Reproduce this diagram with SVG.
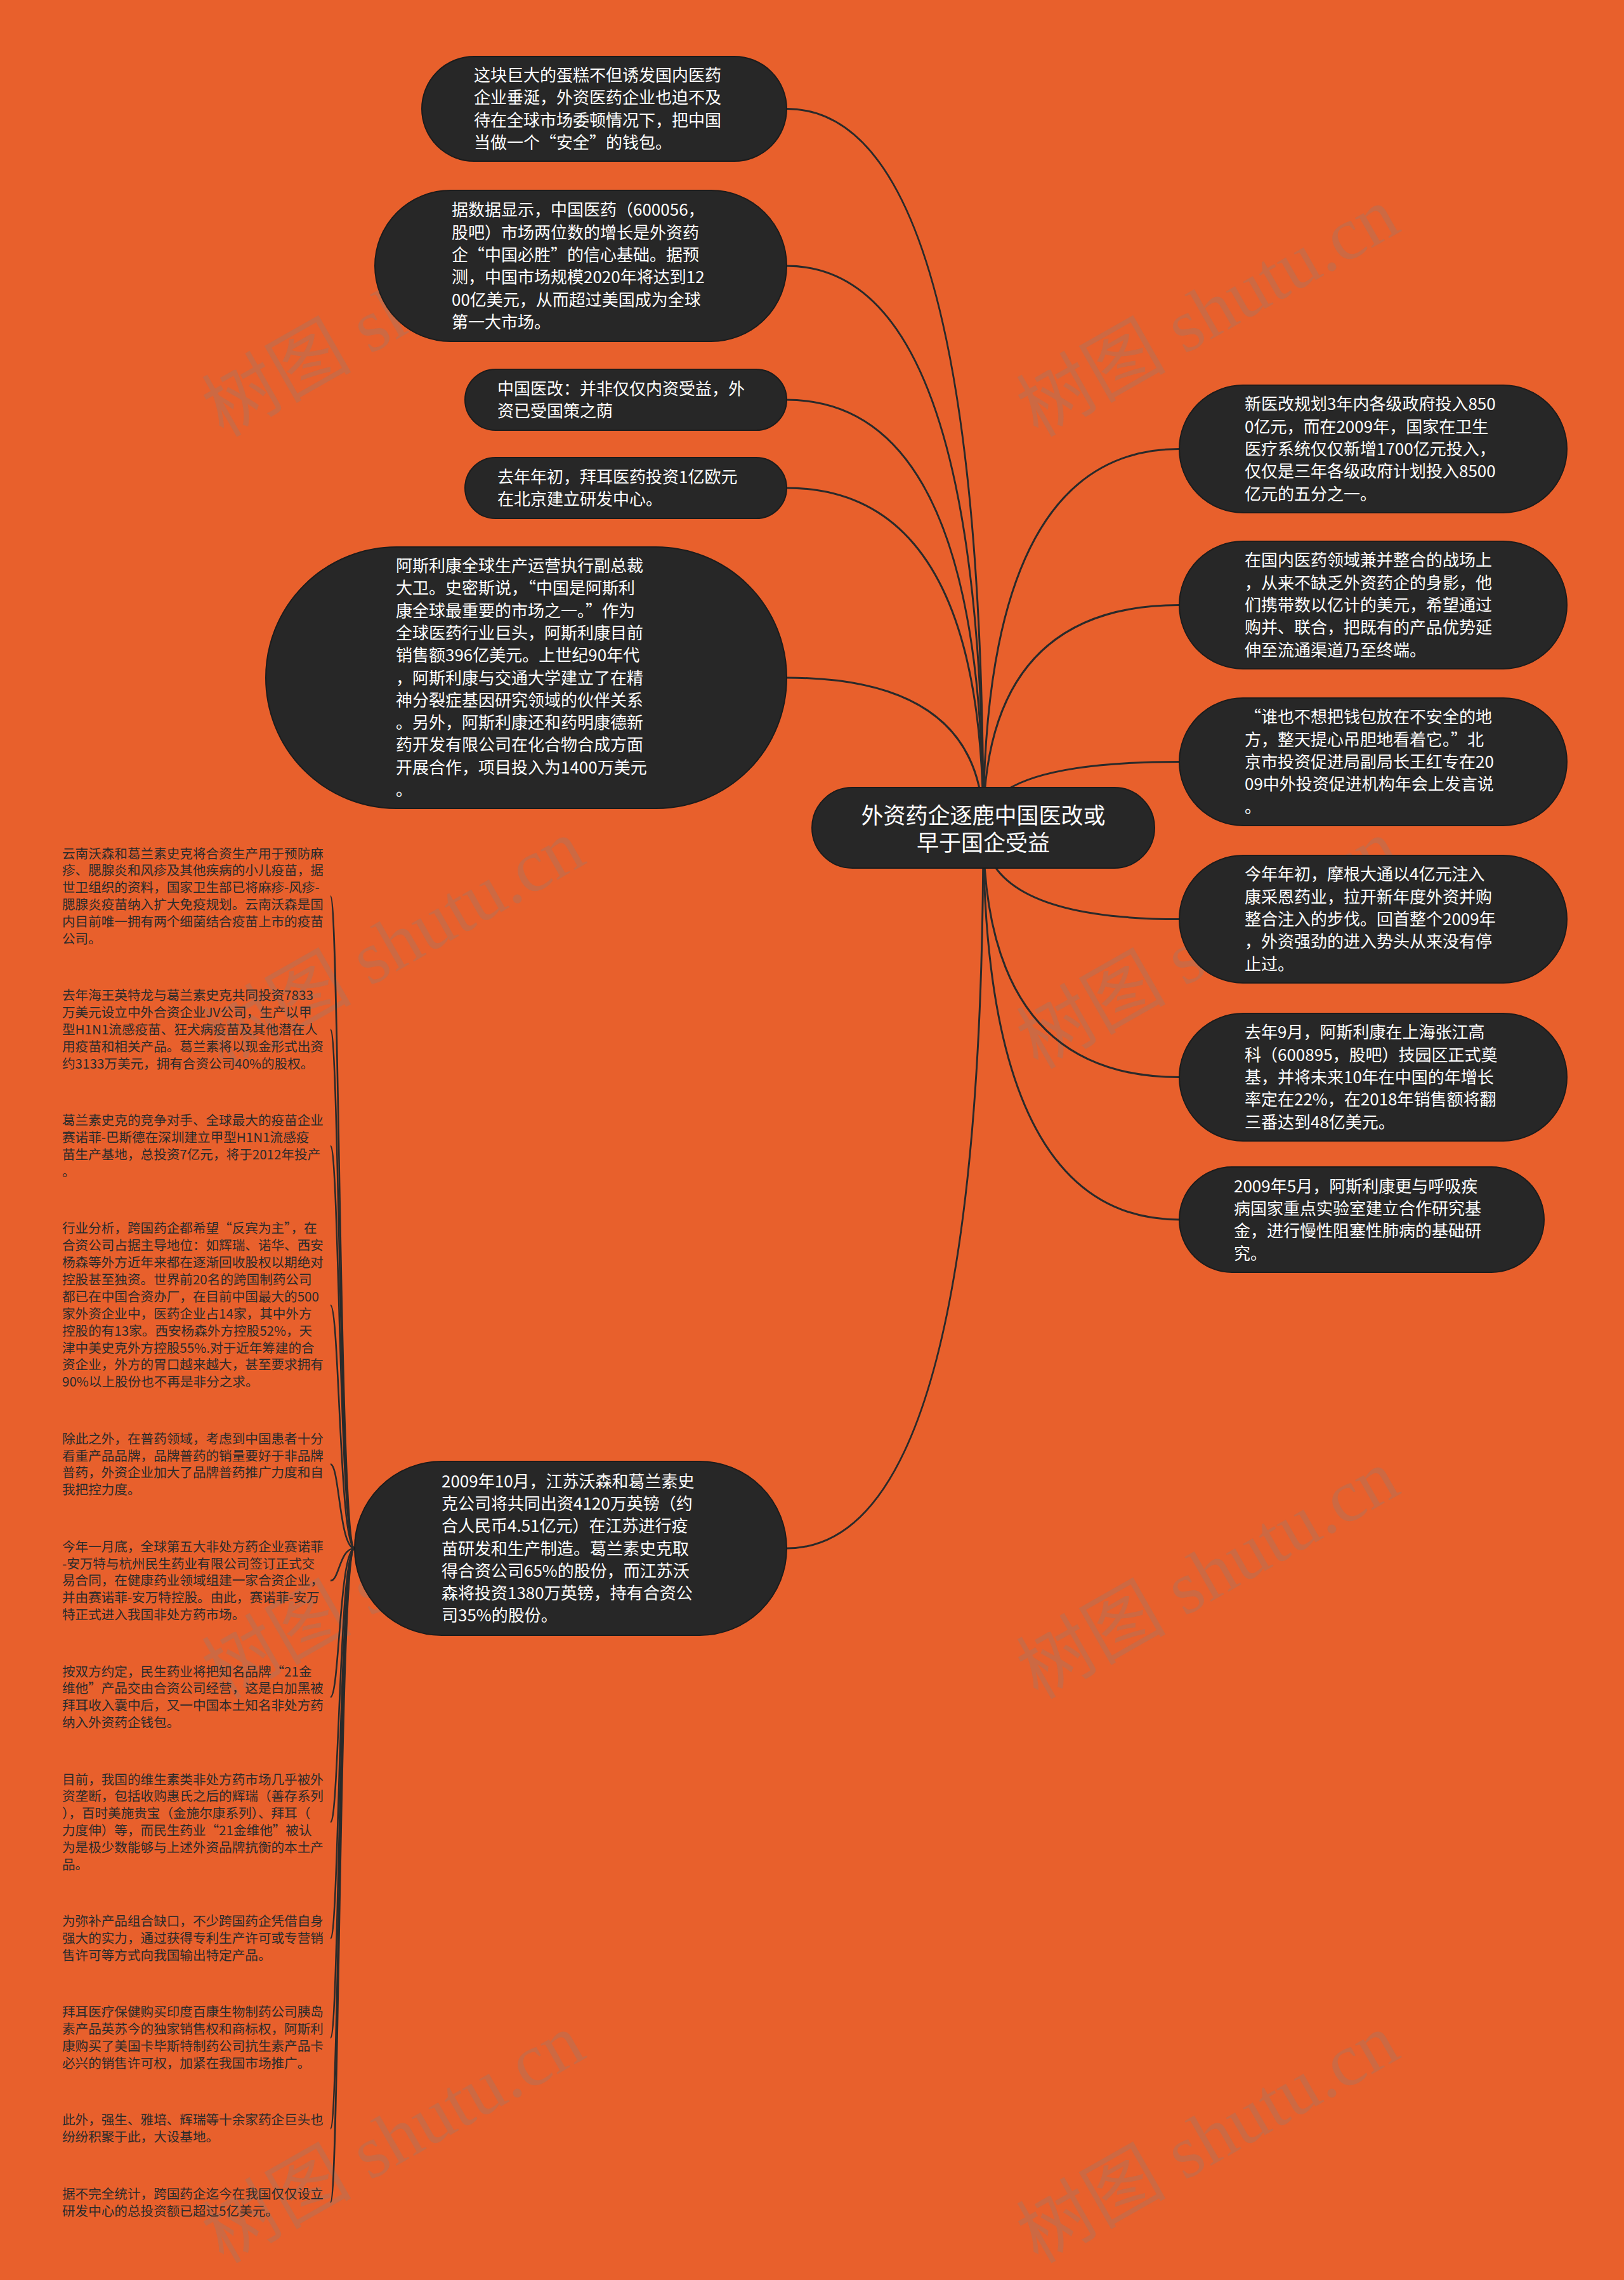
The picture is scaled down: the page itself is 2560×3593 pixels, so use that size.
<svg xmlns="http://www.w3.org/2000/svg" width="2560" height="3593" viewBox="0 0 2560 3593">
<style>
.wm{font-family:'Liberation Serif','Noto Sans CJK SC',serif;font-size:118px;fill:#808080;fill-opacity:0.27}
.link{fill:none;stroke:#2a2a2a;stroke-width:3}
.sub{fill:none;stroke:#2a2a2a;stroke-width:2.6}
.box{fill:#272727;stroke:#1c1c1c;stroke-width:2}
.nt{font-family:'Noto Sans CJK SC','Noto Sans',sans-serif;font-size:26px;fill:#ffffff}
.rt{font-family:'Noto Sans CJK SC','Noto Sans',sans-serif;font-size:35px;fill:#ffffff;text-anchor:middle}
.lt{font-family:'Noto Sans CJK SC','Noto Sans',sans-serif;font-size:20.6px;fill:#2b2b2b}
</style>
<rect width="2560" height="3593" fill="#E8602C"/>
<g id="watermarks">
<text class="wm" transform="translate(352 690) rotate(-29.6)">树图 shutu.cn</text>
<text class="wm" transform="translate(1636 690) rotate(-29.6)">树图 shutu.cn</text>
<text class="wm" transform="translate(352 1686) rotate(-29.6)">树图 shutu.cn</text>
<text class="wm" transform="translate(1636 1686) rotate(-29.6)">树图 shutu.cn</text>
<text class="wm" transform="translate(352 2679) rotate(-29.6)">树图 shutu.cn</text>
<text class="wm" transform="translate(1636 2679) rotate(-29.6)">树图 shutu.cn</text>
<text class="wm" transform="translate(352 3568) rotate(-29.6)">树图 shutu.cn</text>
<text class="wm" transform="translate(1636 3568) rotate(-29.6)">树图 shutu.cn</text>
</g>
<g id="connectors">
<path class="link" d="M1550 1304 Q1550 171.5 1240 171.5"/>
<path class="link" d="M1550 1304 Q1550 419 1240 419"/>
<path class="link" d="M1550 1304 Q1550 630 1240 630"/>
<path class="link" d="M1550 1304 Q1550 769 1240 769"/>
<path class="link" d="M1550 1304 Q1550 1068 1240 1068"/>
<path class="link" d="M1550 1304 Q1550 2440 1240 2440"/>
<path class="link" d="M1550 1304 Q1550 707.5 1859 707.5"/>
<path class="link" d="M1550 1304 Q1550 953.5 1859 953.5"/>
<path class="link" d="M1550 1304 Q1550 1200.5 1859 1200.5"/>
<path class="link" d="M1550 1304 Q1550 1448.5 1859 1448.5"/>
<path class="link" d="M1550 1304 Q1550 1697.5 1859 1697.5"/>
<path class="link" d="M1550 1304 Q1550 1922 1859 1922"/>
<path class="sub" d="M559 2440 C535 2440 535 1412.3 521 1412.3"/>
<path class="sub" d="M559 2440 C535 2440 535 1622.6 521 1622.6"/>
<path class="sub" d="M559 2440 C535 2440 535 1806.1 521 1806.1"/>
<path class="sub" d="M559 2440 C535 2440 535 2056.8 521 2056.8"/>
<path class="sub" d="M559 2440 C535 2440 535 2307.5 521 2307.5"/>
<path class="sub" d="M559 2440 C535 2440 535 2490.9 521 2490.9"/>
<path class="sub" d="M559 2440 C535 2440 535 2674.4 521 2674.4"/>
<path class="sub" d="M559 2440 C535 2440 535 2871.3 521 2871.3"/>
<path class="sub" d="M559 2440 C535 2440 535 3054.7 521 3054.7"/>
<path class="sub" d="M559 2440 C535 2440 535 3211.3 521 3211.3"/>
<path class="sub" d="M559 2440 C535 2440 535 3354.4 521 3354.4"/>
<path class="sub" d="M559 2440 C535 2440 535 3470.6 521 3470.6"/>
</g>
<g id="root">
<rect class="box" x="1280" y="1241" width="540" height="127" rx="63.5"/>
<text class="rt" x="1550" y="1297.8">外资药企逐鹿中国医改或</text>
<text class="rt" x="1550" y="1340.8">早于国企受益</text>
</g>
<g id="n1">
<rect class="box" x="665" y="89" width="575" height="165" rx="82.5"/>
<text class="nt"><tspan x="747" y="128">这块巨大的蛋糕不但诱发国内医药</tspan><tspan x="747" y="163.3">企业垂涎，外资医药企业也迫不及</tspan><tspan x="747" y="198.6">待在全球市场委顿情况下，把中国</tspan><tspan x="747" y="233.9">当做一个“安全”的钱包。</tspan></text>
</g>
<g id="n2">
<rect class="box" x="591" y="300" width="649" height="238" rx="119"/>
<text class="nt"><tspan x="712" y="340.3">据数据显示，中国医药（600056，</tspan><tspan x="712" y="375.6">股吧）市场两位数的增长是外资药</tspan><tspan x="712" y="410.9">企“中国必胜”的信心基础。据预</tspan><tspan x="712" y="446.2">测，中国市场规模2020年将达到12</tspan><tspan x="712" y="481.5">00亿美元，从而超过美国成为全球</tspan><tspan x="712" y="516.8">第一大市场。</tspan></text>
</g>
<g id="n3">
<rect class="box" x="733" y="582" width="507" height="96" rx="48"/>
<text class="nt"><tspan x="784" y="621.9">中国医改：并非仅仅内资受益，外</tspan><tspan x="784" y="657.2">资已受国策之荫</tspan></text>
</g>
<g id="n4">
<rect class="box" x="733" y="721" width="507" height="96" rx="48"/>
<text class="nt"><tspan x="784" y="760.9">去年年初，拜耳医药投资1亿欧元</tspan><tspan x="784" y="796.2">在北京建立研发中心。</tspan></text>
</g>
<g id="n5">
<rect class="box" x="419" y="862" width="821" height="412" rx="206"/>
<text class="nt"><tspan x="624" y="901">阿斯利康全球生产运营执行副总裁</tspan><tspan x="624" y="936.3">大卫。史密斯说，“中国是阿斯利</tspan><tspan x="624" y="971.6">康全球最重要的市场之一。”作为</tspan><tspan x="624" y="1006.9">全球医药行业巨头，阿斯利康目前</tspan><tspan x="624" y="1042.2">销售额396亿美元。上世纪90年代</tspan><tspan x="624" y="1077.5">，阿斯利康与交通大学建立了在精</tspan><tspan x="624" y="1112.8">神分裂症基因研究领域的伙伴关系</tspan><tspan x="624" y="1148.1">。另外，阿斯利康还和药明康德新</tspan><tspan x="624" y="1183.4">药开发有限公司在化合物合成方面</tspan><tspan x="624" y="1218.7">开展合作，项目投入为1400万美元</tspan><tspan x="624" y="1254">。</tspan></text>
</g>
<g id="n6">
<rect class="box" x="559" y="2303" width="681" height="274" rx="137"/>
<text class="nt"><tspan x="696" y="2343.6">2009年10月，江苏沃森和葛兰素史</tspan><tspan x="696" y="2378.9">克公司将共同出资4120万英镑（约</tspan><tspan x="696" y="2414.2">合人民币4.51亿元）在江苏进行疫</tspan><tspan x="696" y="2449.5">苗研发和生产制造。葛兰素史克取</tspan><tspan x="696" y="2484.8">得合资公司65%的股份，而江苏沃</tspan><tspan x="696" y="2520.1">森将投资1380万英镑，持有合资公</tspan><tspan x="696" y="2555.4">司35%的股份。</tspan></text>
</g>
<g id="r1">
<rect class="box" x="1859" y="607" width="611" height="201" rx="100.5"/>
<text class="nt"><tspan x="1962" y="646.4">新医改规划3年内各级政府投入850</tspan><tspan x="1962" y="681.7">0亿元，而在2009年，国家在卫生</tspan><tspan x="1962" y="717">医疗系统仅仅新增1700亿元投入，</tspan><tspan x="1962" y="752.3">仅仅是三年各级政府计划投入8500</tspan><tspan x="1962" y="787.6">亿元的五分之一。</tspan></text>
</g>
<g id="r2">
<rect class="box" x="1859" y="853" width="611" height="201" rx="100.5"/>
<text class="nt"><tspan x="1962" y="892.4">在国内医药领域兼并整合的战场上</tspan><tspan x="1962" y="927.7">，从来不缺乏外资药企的身影，他</tspan><tspan x="1962" y="963">们携带数以亿计的美元，希望通过</tspan><tspan x="1962" y="998.3">购并、联合，把既有的产品优势延</tspan><tspan x="1962" y="1033.6">伸至流通渠道乃至终端。</tspan></text>
</g>
<g id="r3">
<rect class="box" x="1859" y="1100" width="611" height="201" rx="100.5"/>
<text class="nt"><tspan x="1962" y="1139.4">“谁也不想把钱包放在不安全的地</tspan><tspan x="1962" y="1174.7">方，整天提心吊胆地看着它。”北</tspan><tspan x="1962" y="1210">京市投资促进局副局长王红专在20</tspan><tspan x="1962" y="1245.3">09中外投资促进机构年会上发言说</tspan><tspan x="1962" y="1280.6">。</tspan></text>
</g>
<g id="r4">
<rect class="box" x="1859" y="1348" width="611" height="201" rx="100.5"/>
<text class="nt"><tspan x="1962" y="1387.4">今年年初，摩根大通以4亿元注入</tspan><tspan x="1962" y="1422.7">康采恩药业，拉开新年度外资并购</tspan><tspan x="1962" y="1458">整合注入的步伐。回首整个2009年</tspan><tspan x="1962" y="1493.3">，外资强劲的进入势头从来没有停</tspan><tspan x="1962" y="1528.6">止过。</tspan></text>
</g>
<g id="r5">
<rect class="box" x="1859" y="1597" width="611" height="201" rx="100.5"/>
<text class="nt"><tspan x="1962" y="1636.4">去年9月，阿斯利康在上海张江高</tspan><tspan x="1962" y="1671.7">科（600895，股吧）技园区正式奠</tspan><tspan x="1962" y="1707">基，并将未来10年在中国的年增长</tspan><tspan x="1962" y="1742.3">率定在22%，在2018年销售额将翻</tspan><tspan x="1962" y="1777.6">三番达到48亿美元。</tspan></text>
</g>
<g id="r6">
<rect class="box" x="1859" y="1839" width="575" height="166" rx="83"/>
<text class="nt"><tspan x="1945" y="1878.6">2009年5月，阿斯利康更与呼吸疾</tspan><tspan x="1945" y="1913.9">病国家重点实验室建立合作研究基</tspan><tspan x="1945" y="1949.2">金，进行慢性阻塞性肺病的基础研</tspan><tspan x="1945" y="1984.5">究。</tspan></text>
</g>
<g id="b1"><text class="lt"><tspan x="98" y="1352.5">云南沃森和葛兰素史克将合资生产用于预防麻</tspan><tspan x="98" y="1379.4">疹、腮腺炎和风疹及其他疾病的小儿疫苗，据</tspan><tspan x="98" y="1406.3">世卫组织的资料，国家卫生部已将麻疹-风疹-</tspan><tspan x="98" y="1433.2">腮腺炎疫苗纳入扩大免疫规划。云南沃森是国</tspan><tspan x="98" y="1460.1">内目前唯一拥有两个细菌结合疫苗上市的疫苗</tspan><tspan x="98" y="1487">公司。</tspan></text></g>
<g id="b2"><text class="lt"><tspan x="98" y="1576.3">去年海王英特龙与葛兰素史克共同投资7833</tspan><tspan x="98" y="1603.2">万美元设立中外合资企业JV公司，生产以甲</tspan><tspan x="98" y="1630.1">型H1N1流感疫苗、狂犬病疫苗及其他潜在人</tspan><tspan x="98" y="1657">用疫苗和相关产品。葛兰素将以现金形式出资</tspan><tspan x="98" y="1683.9">约3133万美元，拥有合资公司40%的股权。</tspan></text></g>
<g id="b3"><text class="lt"><tspan x="98" y="1773.2">葛兰素史克的竞争对手、全球最大的疫苗企业</tspan><tspan x="98" y="1800.1">赛诺菲-巴斯德在深圳建立甲型H1N1流感疫</tspan><tspan x="98" y="1827">苗生产基地，总投资7亿元，将于2012年投产</tspan><tspan x="98" y="1853.9">。</tspan></text></g>
<g id="b4"><text class="lt"><tspan x="98" y="1943.2">行业分析，跨国药企都希望“反宾为主”，在</tspan><tspan x="98" y="1970.1">合资公司占据主导地位：如辉瑞、诺华、西安</tspan><tspan x="98" y="1997">杨森等外方近年来都在逐渐回收股权以期绝对</tspan><tspan x="98" y="2023.9">控股甚至独资。世界前20名的跨国制药公司</tspan><tspan x="98" y="2050.8">都已在中国合资办厂，在目前中国最大的500</tspan><tspan x="98" y="2077.7">家外资企业中，医药企业占14家，其中外方</tspan><tspan x="98" y="2104.6">控股的有13家。西安杨森外方控股52%，天</tspan><tspan x="98" y="2131.5">津中美史克外方控股55%.对于近年筹建的合</tspan><tspan x="98" y="2158.4">资企业，外方的胃口越来越大，甚至要求拥有</tspan><tspan x="98" y="2185.3">90%以上股份也不再是非分之求。</tspan></text></g>
<g id="b5"><text class="lt"><tspan x="98" y="2274.6">除此之外，在普药领域，考虑到中国患者十分</tspan><tspan x="98" y="2301.5">看重产品品牌，品牌普药的销量要好于非品牌</tspan><tspan x="98" y="2328.4">普药，外资企业加大了品牌普药推广力度和自</tspan><tspan x="98" y="2355.3">我把控力度。</tspan></text></g>
<g id="b6"><text class="lt"><tspan x="98" y="2444.6">今年一月底，全球第五大非处方药企业赛诺菲</tspan><tspan x="98" y="2471.5">-安万特与杭州民生药业有限公司签订正式交</tspan><tspan x="98" y="2498.4">易合同，在健康药业领域组建一家合资企业，</tspan><tspan x="98" y="2525.3">并由赛诺菲-安万特控股。由此，赛诺菲-安万</tspan><tspan x="98" y="2552.2">特正式进入我国非处方药市场。</tspan></text></g>
<g id="b7"><text class="lt"><tspan x="98" y="2641.5">按双方约定，民生药业将把知名品牌“21金</tspan><tspan x="98" y="2668.4">维他”产品交由合资公司经营，这是白加黑被</tspan><tspan x="98" y="2695.3">拜耳收入囊中后，又一中国本土知名非处方药</tspan><tspan x="98" y="2722.2">纳入外资药企钱包。</tspan></text></g>
<g id="b8"><text class="lt"><tspan x="98" y="2811.5">目前，我国的维生素类非处方药市场几乎被外</tspan><tspan x="98" y="2838.4">资垄断，包括收购惠氏之后的辉瑞（善存系列</tspan><tspan x="98" y="2865.3">），百时美施贵宝（金施尔康系列）、拜耳（</tspan><tspan x="98" y="2892.2">力度伸）等，而民生药业“21金维他”被认</tspan><tspan x="98" y="2919.1">为是极少数能够与上述外资品牌抗衡的本土产</tspan><tspan x="98" y="2946">品。</tspan></text></g>
<g id="b9"><text class="lt"><tspan x="98" y="3035.3">为弥补产品组合缺口，不少跨国药企凭借自身</tspan><tspan x="98" y="3062.2">强大的实力，通过获得专利生产许可或专营销</tspan><tspan x="98" y="3089.1">售许可等方式向我国输出特定产品。</tspan></text></g>
<g id="b10"><text class="lt"><tspan x="98" y="3178.4">拜耳医疗保健购买印度百康生物制药公司胰岛</tspan><tspan x="98" y="3205.3">素产品英苏今的独家销售权和商标权，阿斯利</tspan><tspan x="98" y="3232.2">康购买了美国卡毕斯特制药公司抗生素产品卡</tspan><tspan x="98" y="3259.1">必兴的销售许可权，加紧在我国市场推广。</tspan></text></g>
<g id="b11"><text class="lt"><tspan x="98" y="3348.4">此外，强生、雅培、辉瑞等十余家药企巨头也</tspan><tspan x="98" y="3375.3">纷纷积聚于此，大设基地。</tspan></text></g>
<g id="b12"><text class="lt"><tspan x="98" y="3464.6">据不完全统计，跨国药企迄今在我国仅仅设立</tspan><tspan x="98" y="3491.5">研发中心的总投资额已超过5亿美元。</tspan></text></g>
</svg>
